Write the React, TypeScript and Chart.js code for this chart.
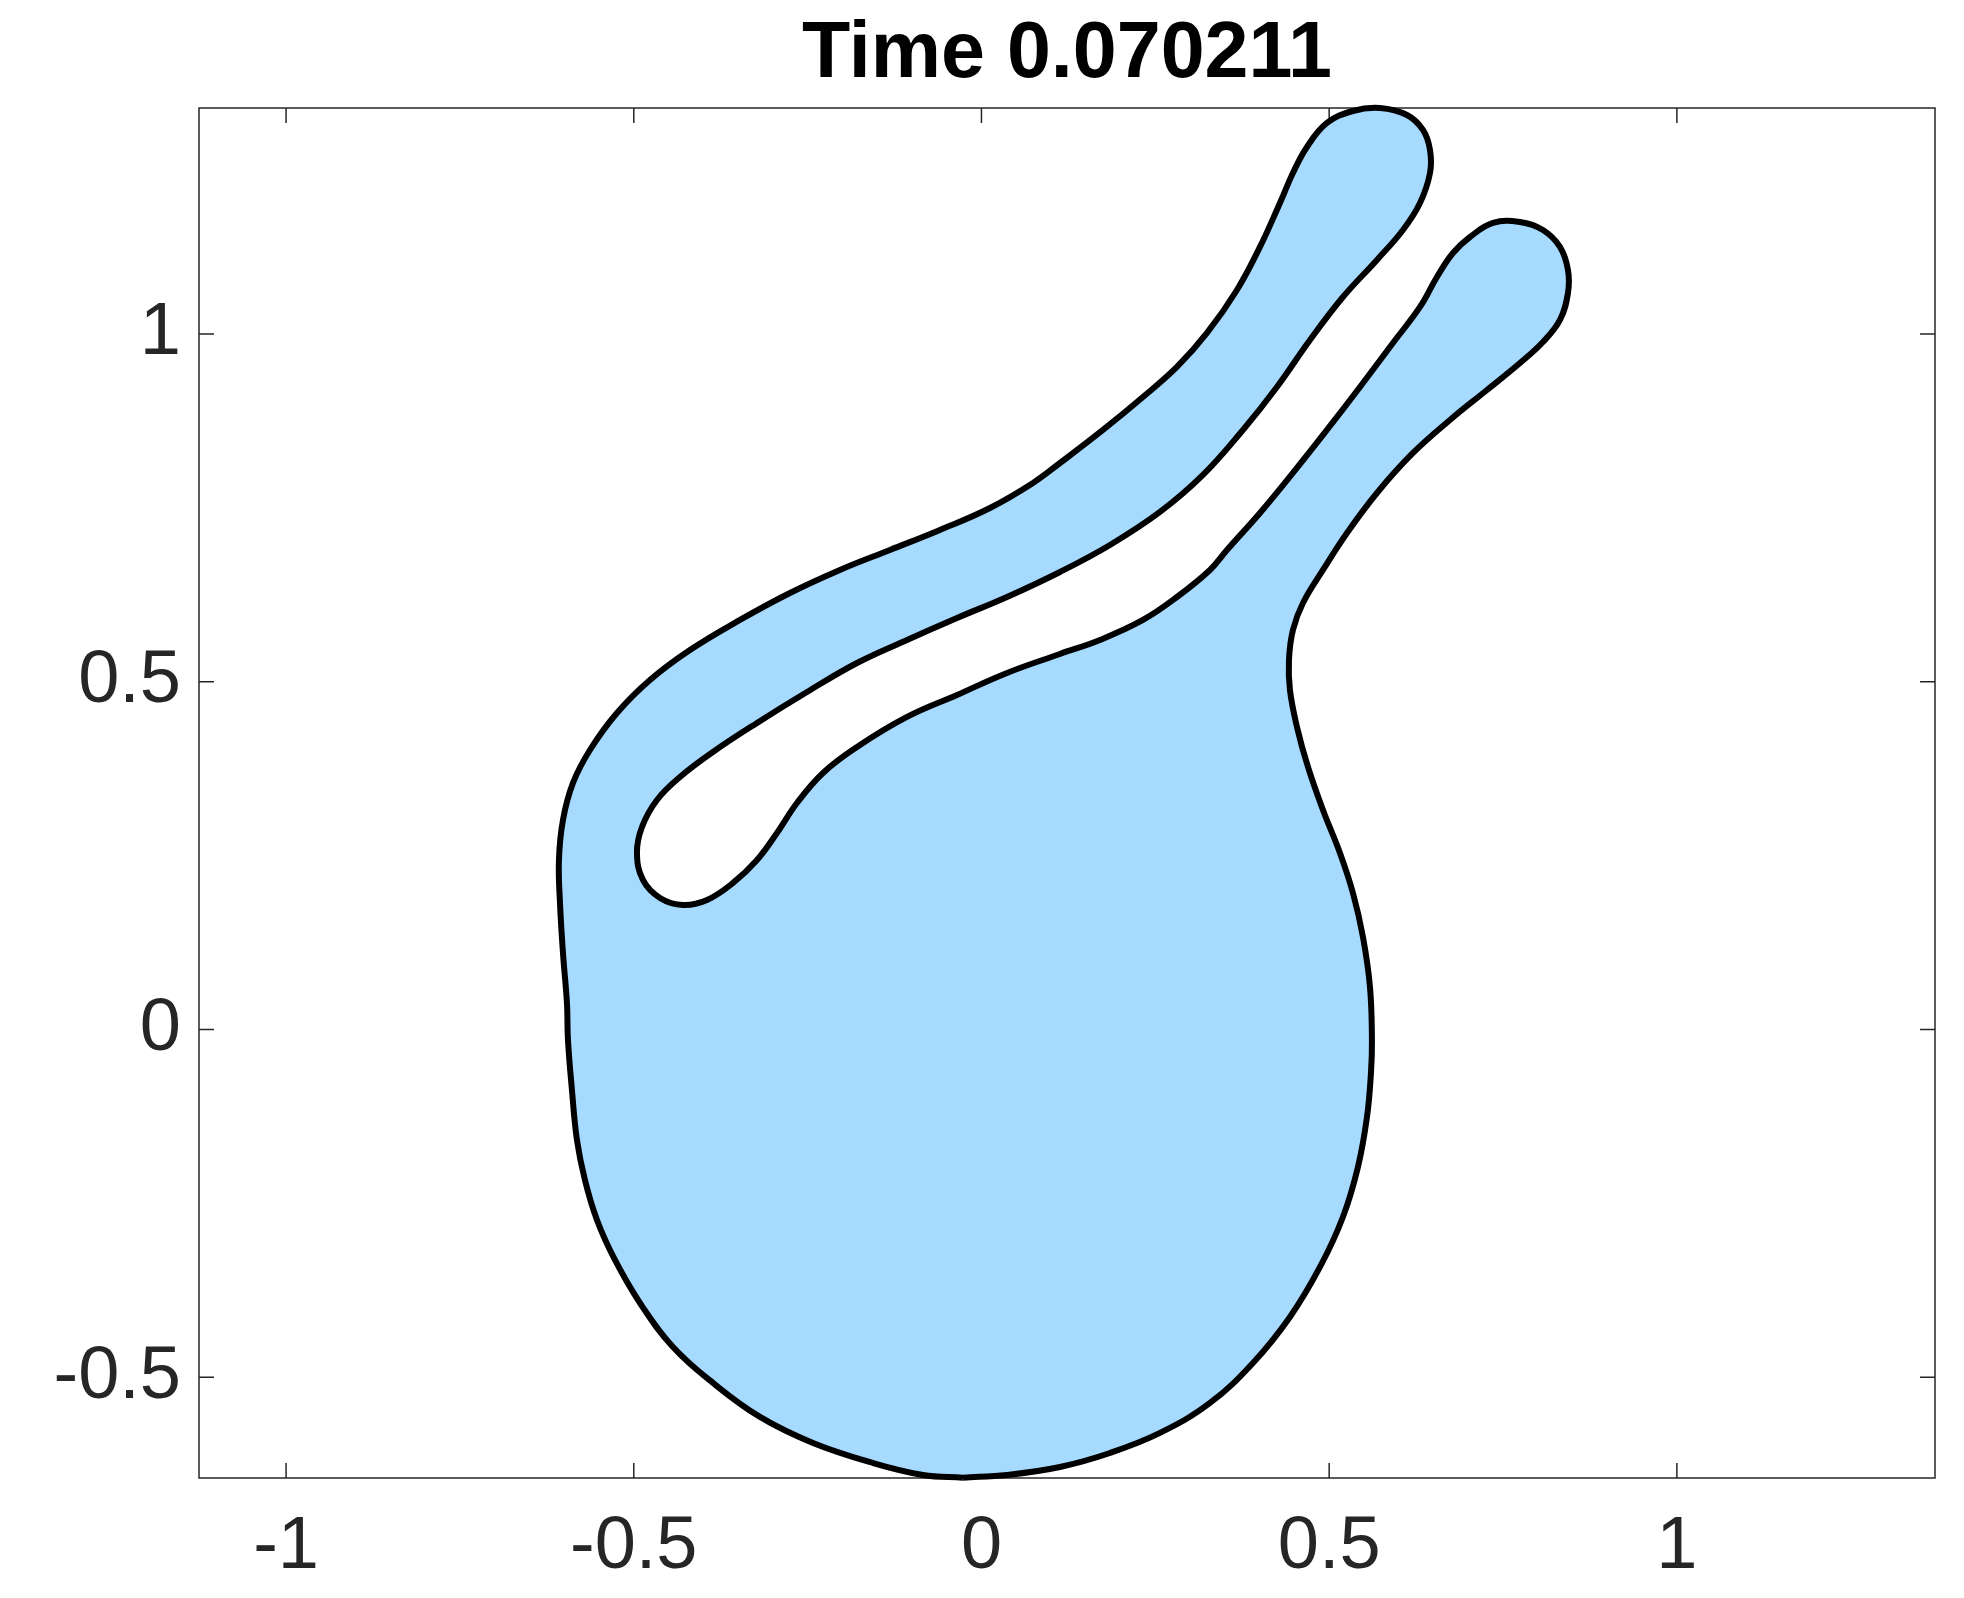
import React, { useEffect, useRef } from "react";
import { Chart, registerables } from "chart.js";

Chart.register(...registerables);

const titleText = "Time 0.070211";
const xTicks = [-1, -0.5, 0, 0.5, 1];
const yTicks = [-0.5, 0, 0.5, 1];
const xRange = [-1.1252, 1.3712];
const yRange = [-0.645, 1.3251];

// boundary of the interface, traced counter-clockwise starting at the bottom
const boundaryX = [
  -0.0266, 0.0367, 0.1129, 0.1848, 0.2567, 0.3286, 0.3904, 0.4436, 0.4868, 0.5198,
  0.5414, 0.5544, 0.5601, 0.5615, 0.5587, 0.5486, 0.5342, 0.5155, 0.4911, 0.4695,
  0.4537, 0.4436, 0.4422, 0.4479, 0.4623, 0.4911, 0.5256, 0.5687, 0.6205, 0.6737,
  0.7269, 0.7744, 0.8074, 0.8319, 0.8434, 0.8434, 0.8319, 0.8074, 0.7744, 0.7356,
  0.7025, 0.678, 0.655, 0.6306, 0.5917, 0.5443, 0.4968, 0.4479, 0.4005, 0.353,
  0.3286, 0.2811, 0.2322, 0.1704, 0.1129, 0.0367, -0.0352, -0.1071, -0.179, -0.2279,
  -0.2653, -0.2941, -0.3228, -0.3573, -0.3947, -0.4292, -0.4623, -0.4868, -0.4954, -0.4882,
  -0.4666, -0.4336, -0.3861, -0.3228, -0.2509, -0.179, -0.1071, -0.0352, 0.0367, 0.1129,
  0.1848, 0.2567, 0.3185, 0.376, 0.4249, 0.4724, 0.5198, 0.5687, 0.6061, 0.6306,
  0.645, 0.645, 0.6349, 0.6119, 0.5731, 0.5342, 0.4968, 0.4681, 0.4479, 0.4292,
  0.4005, 0.3674, 0.3243, 0.2811, 0.2322, 0.1747, 0.1129, 0.0741, 0.0122, -0.0597,
  -0.1316, -0.2035, -0.2754, -0.3473, -0.4192, -0.4767, -0.5242, -0.563, -0.5874, -0.6018,
  -0.6076, -0.6061, -0.6018, -0.5961, -0.5946, -0.5889, -0.5817, -0.5702, -0.5529, -0.527,
  -0.4911, -0.4436, -0.3861, -0.3185, -0.2423, -0.156, -0.0841, -0.0266,
];
const boundaryY = [
  -0.6445, -0.6406, -0.6291, -0.609, -0.5802, -0.5371, -0.4796, -0.4134, -0.3415, -0.2696,
  -0.1977, -0.1258, -0.0626, -0.0151, 0.0611, 0.133, 0.1963, 0.2538, 0.3156, 0.3775,
  0.435, 0.4882, 0.5314, 0.5745, 0.6133, 0.6608, 0.714, 0.7715, 0.829, 0.8765,
  0.9196, 0.9584, 0.9886, 1.0203, 1.0591, 1.0922, 1.1253, 1.1497, 1.1612, 1.1598,
  1.1396, 1.1166, 1.0821, 1.039, 0.9872, 0.9239, 0.8621, 0.8003, 0.7427, 0.6895,
  0.6608, 0.6219, 0.5889, 0.5601, 0.54, 0.5127, 0.481, 0.4494, 0.4062, 0.3689,
  0.3257, 0.2826, 0.2437, 0.2107, 0.1862, 0.179, 0.1891, 0.215, 0.2538, 0.2912,
  0.33, 0.3631, 0.3991, 0.4408, 0.4853, 0.527, 0.5601, 0.5917, 0.6219, 0.6579,
  0.6967, 0.7442, 0.7974, 0.8621, 0.9239, 0.9915, 1.0533, 1.1066, 1.1497, 1.1885,
  1.2317, 1.2647, 1.2935, 1.315, 1.3251, 1.3208, 1.3036, 1.2691, 1.2317, 1.1885,
  1.1253, 1.0634, 1.0016, 0.9527, 0.9095, 0.8621, 0.8146, 0.7859, 0.7499, 0.7183,
  0.6895, 0.6608, 0.6277, 0.5889, 0.5457, 0.5026, 0.4551, 0.4019, 0.3545, 0.3013,
  0.2437, 0.1819, 0.11, 0.0381, -0.0151, -0.087, -0.1589, -0.2164, -0.2739, -0.3315,
  -0.3933, -0.4566, -0.5083, -0.5572, -0.5946, -0.6234, -0.6406, -0.6445,
];

const FONT = "'Liberation Sans', Arial, Helvetica, sans-serif";
const AXIS_COLOR = "#262626";

const boxPlugin = {
  id: "matlabBox",
  beforeDraw(chart: any) {
    const { ctx, chartArea: a, scales } = chart;
    ctx.save();
    ctx.strokeStyle = AXIS_COLOR;
    ctx.lineWidth = 1.5;
    ctx.strokeRect(a.left, a.top, a.right - a.left, a.bottom - a.top);
    ctx.beginPath();
    const tl = 15;
    for (const v of xTicks) {
      const px = scales.x.getPixelForValue(v);
      ctx.moveTo(px, a.bottom);
      ctx.lineTo(px, a.bottom - tl);
      ctx.moveTo(px, a.top);
      ctx.lineTo(px, a.top + tl);
    }
    for (const v of yTicks) {
      const py = scales.y.getPixelForValue(v);
      ctx.moveTo(a.left, py);
      ctx.lineTo(a.left + tl, py);
      ctx.moveTo(a.right, py);
      ctx.lineTo(a.right - tl, py);
    }
    ctx.stroke();
    ctx.restore();
  },
};

export default function App() {
  const ref = useRef<HTMLCanvasElement | null>(null);

  useEffect(() => {
    if (!ref.current) return;
    const points = boundaryX.map((x, i) => ({ x, y: boundaryY[i] }));
    const chart = new Chart(ref.current, {
      type: "line",
      data: {
        datasets: [
          {
            data: points,
            borderColor: "#000000",
            borderWidth: 6,
            borderJoinStyle: "round",
            backgroundColor: "rgb(166,218,255)",
            fill: "shape",
            pointRadius: 0,
            pointHoverRadius: 0,
            tension: 0.4,
            clip: 10,
          } as any,
        ],
      },
      plugins: [boxPlugin],
      options: {
        animation: false,
        responsive: false,
        devicePixelRatio: 1,
        events: [],
        layout: { padding: { left: 0, right: 29, top: 0, bottom: 0 } },
        elements: { line: { capBezierPoints: false } },
        plugins: {
          legend: { display: false },
          tooltip: { enabled: false },
          title: {
            display: true,
            text: titleText,
            fullSize: false,
            color: "#000000",
            font: { family: FONT, size: 79, weight: "bold", lineHeight: 1 },
            padding: { top: 16, bottom: 13 },
          },
        },
        scales: {
          x: {
            type: "linear",
            min: xRange[0],
            max: xRange[1],
            grid: { display: false, drawTicks: false },
            border: { display: false },
            afterBuildTicks: (s: any) => {
              s.ticks = xTicks.map((v) => ({ value: v }));
            },
            afterFit: (s: any) => {
              s.height = 120;
            },
            ticks: {
              autoSkip: false,
              maxRotation: 0,
              minRotation: 0,
              padding: 25,
              color: AXIS_COLOR,
              font: { family: FONT, size: 74 },
              callback: (v: any) => String(v),
            },
          },
          y: {
            type: "linear",
            min: yRange[0],
            max: yRange[1],
            grid: { display: false, drawTicks: false },
            border: { display: false },
            afterBuildTicks: (s: any) => {
              s.ticks = yTicks.map((v) => ({ value: v }));
            },
            afterFit: (s: any) => {
              s.width = 199;
            },
            ticks: {
              autoSkip: false,
              padding: 18,
              color: AXIS_COLOR,
              font: { family: FONT, size: 74 },
              callback: (v: any) => String(v),
            },
          },
        },
      } as any,
    });
    return () => chart.destroy();
  }, []);

  return (
    <div style={{ position: "absolute", left: 0, top: 0, width: 1964, height: 1598, background: "#ffffff" }}>
      <canvas ref={ref} width={1964} height={1598} style={{ display: "block", width: 1964, height: 1598 }} />
    </div>
  );
}
